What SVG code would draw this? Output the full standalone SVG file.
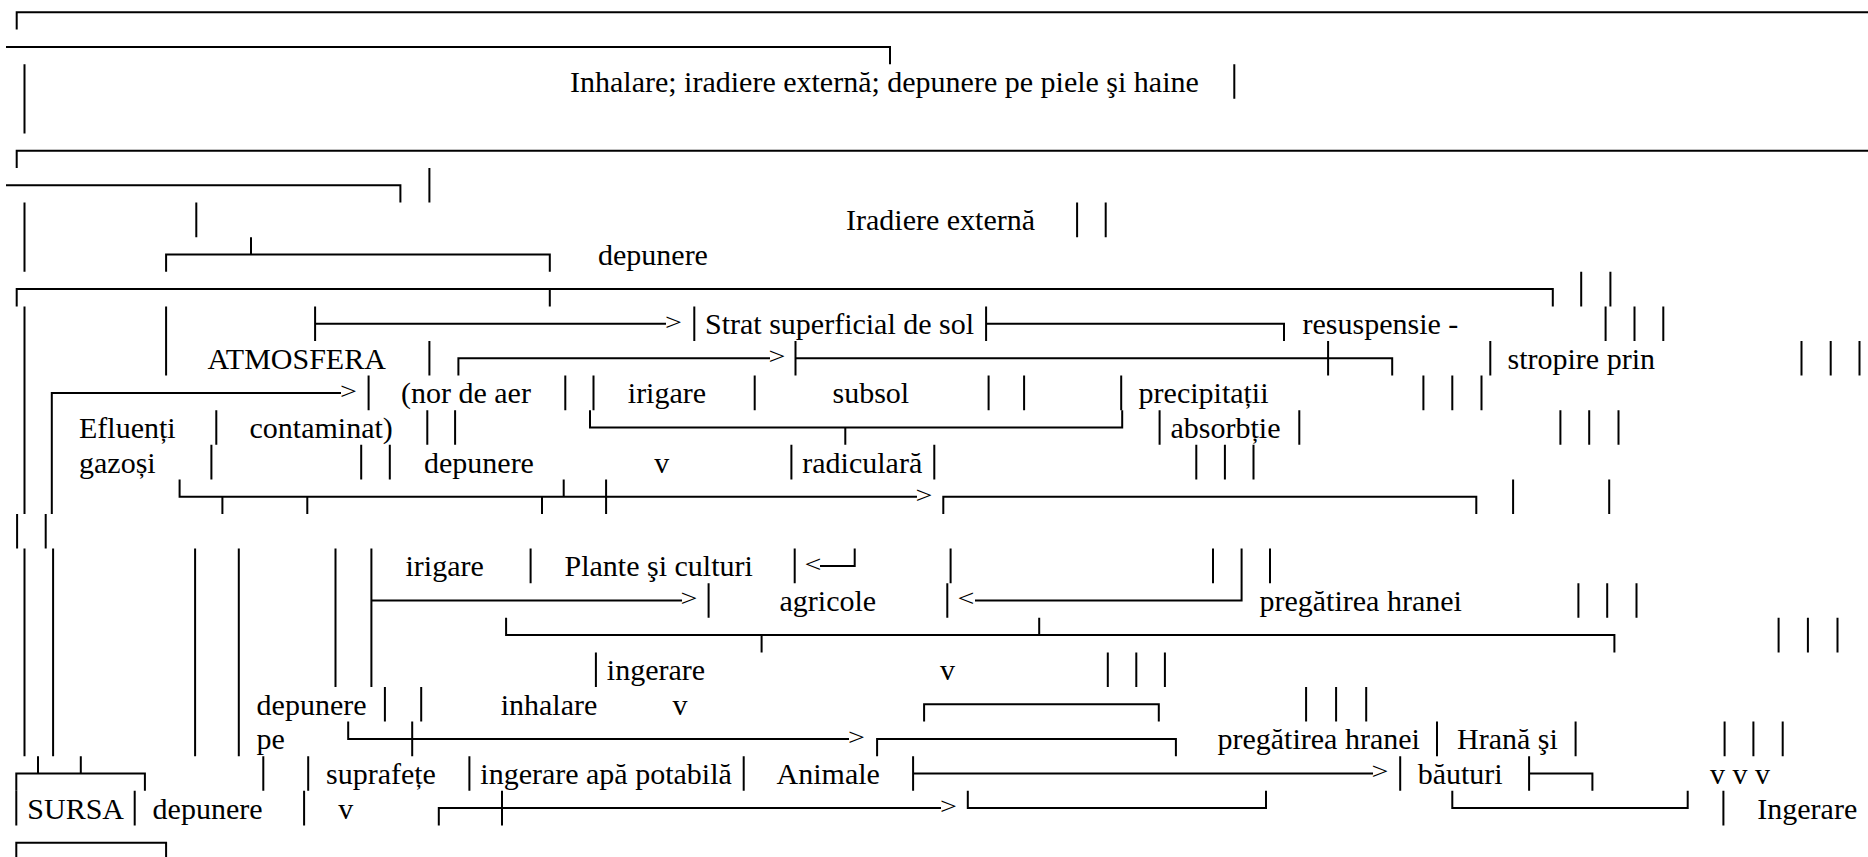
<svg xmlns="http://www.w3.org/2000/svg" width="1868" height="857" viewBox="0 0 1868 857">
<style>
.c{fill:none;stroke:#000;stroke-width:2}
text{font-family:"Liberation Serif","Times New Roman",serif;font-size:30px;fill:#000}
</style>
<rect width="1868" height="857" fill="#fff"/>
<g id="connectors" class="c">
<path d="M16.7,29.6V12.3H1868"/>
<path d="M6,46.9H890V64.2"/>
<path d="M24.5,64.2V133.4M1234.3,64.2V98.8"/>
<path d="M16.7,168V150.7H1868"/>
<path d="M6,185.3H400.4V202.6M429.4,168V202.6"/>
<path d="M24.5,202.6V271.8M196.3,202.6V237.2M1077.1,202.6V237.2M1105.7,202.6V237.2"/>
<path d="M166.1,271.8V254.5H549.8V271.8M251,237.2V254.5"/>
<path d="M16.7,306.4V289.1H1552.8V306.4M549.8,289.1V306.4M1581.2,271.8V306.4M1610.4,271.8V306.4"/>
<path d="M24.5,306.4V514M166.1,306.4V375.6"/>
<path d="M315.1,306.4V341M315.1,323.7H666M694.3,306.4V341M986.1,306.4V341M986.1,323.7H1284V341M1605.6,306.4V341M1634.5,306.4V341M1663.3,306.4V341"/>
<path d="M429.4,341V375.6M458.4,375.6V358.3H770M795.5,341V375.6M795.5,358.3H1392.2V375.6M1328.1,341V375.6M1490.3,341V375.6M1801.5,341V375.6M1830.7,341V375.6M1859.5,341V375.6"/>
<path d="M51.8,514V392.9H341M368.6,375.6V410.2M565.3,375.6V410.2M593.5,375.6V410.2M754.7,375.6V410.2M988.6,375.6V410.2M1024.1,375.6V410.2M1121.2,375.6V410.2M1423.4,375.6V410.2M1452.3,375.6V410.2M1481.5,375.6V410.2"/>
<path d="M216.3,410.2V444.8M427.3,410.2V444.8M455.1,410.2V444.8M590,410.2V427.5H1122.2V410.2M845.3,427.5V444.8M1159.6,410.2V444.8M1299.3,410.2V444.8M1560.4,410.2V444.8M1589.2,410.2V444.8M1618.5,410.2V444.8"/>
<path d="M211.4,444.8V479.4M361.2,444.8V479.4M389.8,444.8V479.4M791.4,444.8V479.4M934.3,444.8V479.4M1196.3,444.8V479.4M1224.9,444.8V479.4M1253.5,444.8V479.4"/>
<path d="M179.6,479.4V496.7H917M222.4,496.7V514M307.3,496.7V514M542,496.7V514M563.7,479.4V496.7M606.1,479.4V514M943.3,514V496.7H1476.3V514M1513.1,479.4V514M1609.2,479.4V514"/>
<path d="M17.1,514V548.6M45.7,514V548.6"/>
<path d="M24.5,548.6V756.2M53.1,548.6V756.2M195.1,548.6V756.2M238.8,548.6V756.2M335.5,548.6V687M371.4,548.6V687M371.4,600.5H682"/>
<path d="M530.6,548.6V583.2M794.7,548.6V583.2M820,565.9H854.7V548.6M950.6,548.6V583.2M1213,548.6V583.2M1270,548.6V583.2M1241.6,548.6V600.5H975"/>
<path d="M708.6,583.2V617.8M947.3,583.2V617.8M1578.4,583.2V617.8M1607.2,583.2V617.8M1636.5,583.2V617.8"/>
<path d="M506.1,617.8V635.1H1614.4V652.4M761.6,635.1V652.4M1039.2,617.8V635.1M1778.6,617.8V652.4M1807.9,617.8V652.4M1837.5,617.8V652.4"/>
<path d="M595.9,652.4V687M1107.8,652.4V687M1136.3,652.4V687M1164.9,652.4V687"/>
<path d="M384.9,687V721.6M421.2,687V721.6M924.1,721.6V704.3H1158.8V721.6M1306.1,687V721.6M1336.1,687V721.6M1366.2,687V721.6"/>
<path d="M348.2,721.6V738.9H849M412.2,721.6V756.2M877.1,756.2V738.9H1175.9V756.2M1437,721.6V756.2M1575.6,721.6V756.2M1724.6,721.6V756.2M1753.4,721.6V756.2M1782.7,721.6V756.2"/>
<path d="M16.3,790.8V773.5H144.9V790.8M38,756.2V773.5M80.8,756.2V773.5M263.3,756.2V790.8M308.2,756.2V790.8M469.4,756.2V790.8M743.7,756.2V790.8M913.1,756.2V790.8M913.1,773.5H1373M1400.2,756.2V790.8M1529.1,756.2V790.8M1529.1,773.5H1592.4V790.8"/>
<path d="M16.3,790.8V825.4M134.7,790.8V825.4M304.1,790.8V825.4M438.8,825.4V808.1H941M502,790.8V825.4M967.8,790.8V808.1H1266V790.8M1452.3,790.8V808.1H1687.7V790.8M1723.4,790.8V825.4"/>
<path d="M16.3,860V842.7H166.1V860"/>
</g>
<g id="arrowheads">
<text transform="translate(665,329.6) scale(1,0.78)">&gt;</text>
<text transform="translate(768.5,364.2) scale(1,0.78)">&gt;</text>
<text transform="translate(340,398.8) scale(1,0.78)">&gt;</text>
<text transform="translate(915.5,502.6) scale(1,0.78)">&gt;</text>
<text transform="translate(804.5,571.8) scale(1,0.78)">&lt;</text>
<text transform="translate(680.5,606.4) scale(1,0.78)">&gt;</text>
<text transform="translate(957.5,606.4) scale(1,0.78)">&lt;</text>
<text transform="translate(848,744.8) scale(1,0.78)">&gt;</text>
<text transform="translate(1371.5,779.4) scale(1,0.78)">&gt;</text>
<text transform="translate(940,814) scale(1,0.78)">&gt;</text>
</g>
<g id="n-exposure"><text x="570" y="92">Inhalare; iradiere externă; depunere pe piele şi haine</text></g>
<g id="n-iradiere"><text x="846" y="230.4">Iradiere externă</text></g>
<g id="n-depunere1"><text x="598" y="265">depunere</text></g>
<g id="n-sol"><text x="705" y="334.2">Strat superficial de sol</text></g>
<g id="n-resuspensie"><text x="1302.5" y="334.2">resuspensie -</text></g>
<g id="n-atmosfera"><text x="207.5" y="368.8">ATMOSFERA</text></g>
<g id="n-stropire"><text x="1507.5" y="368.8">stropire prin</text></g>
<g id="n-nor"><text x="401" y="403.4">(nor de aer</text></g>
<g id="n-irigare1"><text x="627.8" y="403.4">irigare</text></g>
<g id="n-subsol"><text x="832.5" y="403.4">subsol</text></g>
<g id="n-precipitatii"><text x="1138.6" y="403.4">precipitații</text></g>
<g id="n-efluenti"><text x="79" y="438">Efluenți</text><text x="79" y="472.6">gazoși</text></g>
<g id="n-contaminat"><text x="249.5" y="438">contaminat)</text></g>
<g id="n-absorbtie"><text x="1170.5" y="438">absorbție</text><text x="802.3" y="472.6">radiculară</text></g>
<g id="n-depunere2"><text x="424" y="472.6">depunere</text></g>
<g id="n-v1"><text x="654.2" y="472.6">v</text></g>
<g id="n-irigare2"><text x="405.5" y="576.4">irigare</text></g>
<g id="n-plante"><text x="564.5" y="576.4">Plante şi culturi</text><text x="779.5" y="611">agricole</text></g>
<g id="n-pregatirea1"><text x="1259.5" y="611">pregătirea hranei</text></g>
<g id="n-ingerare1"><text x="606.8" y="680.2">ingerare</text></g>
<g id="n-v2"><text x="940" y="680.2">v</text></g>
<g id="n-depunere3"><text x="256.6" y="714.8">depunere</text><text x="256.6" y="749.4">pe</text><text x="326" y="784">suprafețe</text></g>
<g id="n-inhalare"><text x="500.7" y="714.8">inhalare</text></g>
<g id="n-v3"><text x="672.5" y="714.8">v</text></g>
<g id="n-pregatirea2"><text x="1217.5" y="749.4">pregătirea hranei</text></g>
<g id="n-hrana"><text x="1457" y="749.4">Hrană şi</text><text x="1417.7" y="784">băuturi</text></g>
<g id="n-apa"><text x="480.3" y="784">ingerare apă potabilă</text></g>
<g id="n-animale"><text x="776.6" y="784">Animale</text></g>
<g id="n-vvv"><text x="1710" y="784">v v v</text></g>
<g id="n-sursa"><text x="27.3" y="818.6">SURSA</text></g>
<g id="n-depunere4"><text x="152.6" y="818.6">depunere</text></g>
<g id="n-v4"><text x="338.3" y="818.6">v</text></g>
<g id="n-ingerare2"><text x="1757.3" y="818.6">Ingerare</text></g>
</svg>
